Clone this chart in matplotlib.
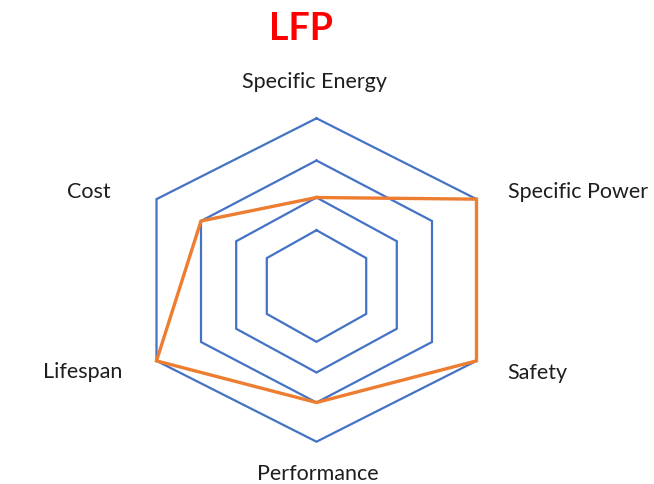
import numpy as np
import matplotlib
matplotlib.use("Agg")
import matplotlib.pyplot as plt

# ---- data ----
title = "LFP"
categories = ["Specific Energy", "Specific Power", "Safety", "Performance", "Lifespan", "Cost"]
values = [2, 4, 4, 3, 4, 3]
levels = [1, 2, 3, 4]

# ---- style / geometry (pixel-like units of the reference) ----
CX = 316.5
# half-height and half-width of each grid ring (the reference is not perfectly regular)
ring_hh = {1: 55.8, 2: 87.5, 3: 121.0, 4: 161.7}
ring_hw = {1: 49.7, 2: 80.3, 3: 115.5, 4: 160.0}
ring_cy = {1: 286.0, 2: 285.0, 3: 281.5, 4: 280.0}

BLUE = "#4472C4"
ORANGE = "#ED7D31"
FONT = ["Lato", "DejaVu Sans"]

# unit direction vectors for the six spokes (top, upper-right, lower-right, bottom, lower-left, upper-left)
dirs = [(0, -1), (1, -0.5), (1, 0.5), (0, 1), (-1, 0.5), (-1, -0.5)]


def point(i, v):
    dx, dy = dirs[i]
    return CX + dx * ring_hw[v], ring_cy[v] + dy * ring_hh[v]


fig = plt.figure(figsize=(6.54, 4.84), dpi=100)
ax = fig.add_axes([0, 0, 1, 1])
ax.set_xlim(0, 654)
ax.set_ylim(484, 0)
ax.axis("off")

for lv in levels:
    pts = [point(i, lv) for i in range(len(categories))]
    pts.append(pts[0])
    xs, ys = zip(*pts)
    ax.plot(xs, ys, color=BLUE, lw=1.6, solid_joinstyle="miter")

dpts = [point(i, v) for i, v in enumerate(values)]
dpts.append(dpts[0])
xs, ys = zip(*dpts)
ax.plot(xs, ys, color=ORANGE, lw=2.4, solid_joinstyle="miter")

label_pos = [(315, 82), (578, 192), (537, 373), (318, 474), (83, 372), (89, 192)]
for name, (x, y) in zip(categories, label_pos):
    ax.text(x, y, name, ha="center", va="center", fontsize=15.5,
            family=FONT, color="#1e1e1e")

ax.text(301, 29, title, ha="center", va="center", fontsize=27,
        fontweight="bold", family=FONT, color="#FF0000")

fig.savefig("out.png", dpi=100, facecolor="white")
